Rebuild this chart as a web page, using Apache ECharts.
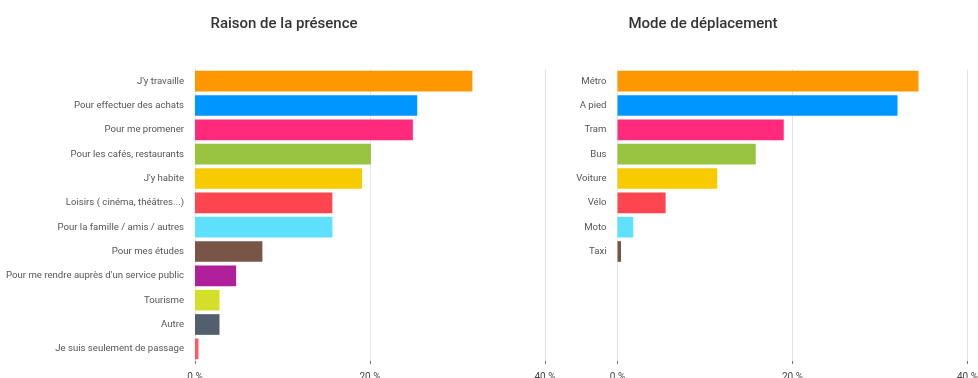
<!DOCTYPE html>
<html>
<head>
<meta charset="utf-8">
<style>
  html, body { margin: 0; padding: 0; background: #fff; }
  #chart { width: 978px; height: 378px; }
</style>
<script src="https://cdn.jsdelivr.net/npm/echarts@6/dist/echarts.min.js"></script>
</head>
<body>
<div id="chart"></div>
<script>
// Raison de la présence (% of respondents)
const raisonCategories = [
  "J'y travaille",
  'Pour effectuer des achats',
  'Pour me promener',
  'Pour les cafés, restaurants',
  "J'y habite",
  'Loisirs ( cinéma, théâtres...)',
  'Pour la famille / amis / autres',
  'Pour mes études',
  "Pour me rendre auprès d'un service public",
  'Tourisme',
  'Autre',
  'Je suis seulement de passage'
];
const raisonValues = [31.7, 25.4, 24.9, 20.1, 19.1, 15.7, 15.7, 7.7, 4.7, 2.8, 2.8, 0.4];

// Mode de déplacement (% of respondents)
const modeCategories = ['Métro', 'A pied', 'Tram', 'Bus', 'Voiture', 'Vélo', 'Moto', 'Taxi'];
const modeValues = [34.4, 32.0, 19.0, 15.8, 11.4, 5.5, 1.8, 0.4];

const xTicks = [0, 20, 40];

const palette = ['#FF9800', '#0096FF', '#FF2A7A', '#98C440', '#F8CA00', '#FF4550',
                 '#5FE0FF', '#795548', '#B0209A', '#D4DF2A', '#52606D', '#FF5A64'];

const FONT = 'Roboto, "Noto Sans", sans-serif';

function xAxisFor(gridIndex) {
  return {
    type: 'value',
    gridIndex: gridIndex,
    min: xTicks[0],
    max: xTicks[xTicks.length - 1],
    interval: xTicks[1] - xTicks[0],
    axisLine: { show: false },
    axisTick: { show: true, length: 3, lineStyle: { color: '#777' } },
    axisLabel: { formatter: '{value} %', color: '#444', fontSize: 10, fontFamily: FONT, margin: 11 },
    splitLine: { show: true, lineStyle: { color: '#e6e6e6', width: 1 } }
  };
}

function yAxisFor(gridIndex, cats) {
  return {
    type: 'category',
    gridIndex: gridIndex,
    data: cats,
    inverse: true,
    min: 0,
    max: 11,
    axisLine: { show: false },
    axisTick: { show: false },
    axisLabel: { color: '#555', fontSize: 9.6, fontFamily: FONT, margin: 11 }
  };
}

function barSeries(axisIndex, values) {
  return {
    type: 'bar',
    xAxisIndex: axisIndex,
    yAxisIndex: axisIndex,
    data: values.map((v, i) => ({ value: v, itemStyle: { color: palette[i] } })),
    barCategoryGap: '15%',
    silent: true,
    animation: false
  };
}

const chart = echarts.init(document.getElementById('chart'), null, { renderer: 'canvas' });
chart.setOption({
  backgroundColor: '#ffffff',
  animation: false,
  title: [
    { text: 'Raison de la présence', left: 279, top: 12, textAlign: 'center',
      textStyle: { fontFamily: FONT, fontSize: 15, fontWeight: 500, color: '#333' } },
    { text: 'Mode de déplacement', left: 698, top: 12, textAlign: 'center',
      textStyle: { fontFamily: FONT, fontSize: 15, fontWeight: 500, color: '#333' } }
  ],
  grid: [
    { left: 195, top: 69, width: 350, height: 292, containLabel: false, outerBoundsMode: 'none' },
    { left: 617.5, top: 69, width: 350, height: 292, containLabel: false, outerBoundsMode: 'none' }
  ],
  xAxis: [xAxisFor(0), xAxisFor(1)],
  yAxis: [yAxisFor(0, raisonCategories), yAxisFor(1, modeCategories)],
  series: [barSeries(0, raisonValues), barSeries(1, modeValues)]
});
</script>
</body>
</html>
